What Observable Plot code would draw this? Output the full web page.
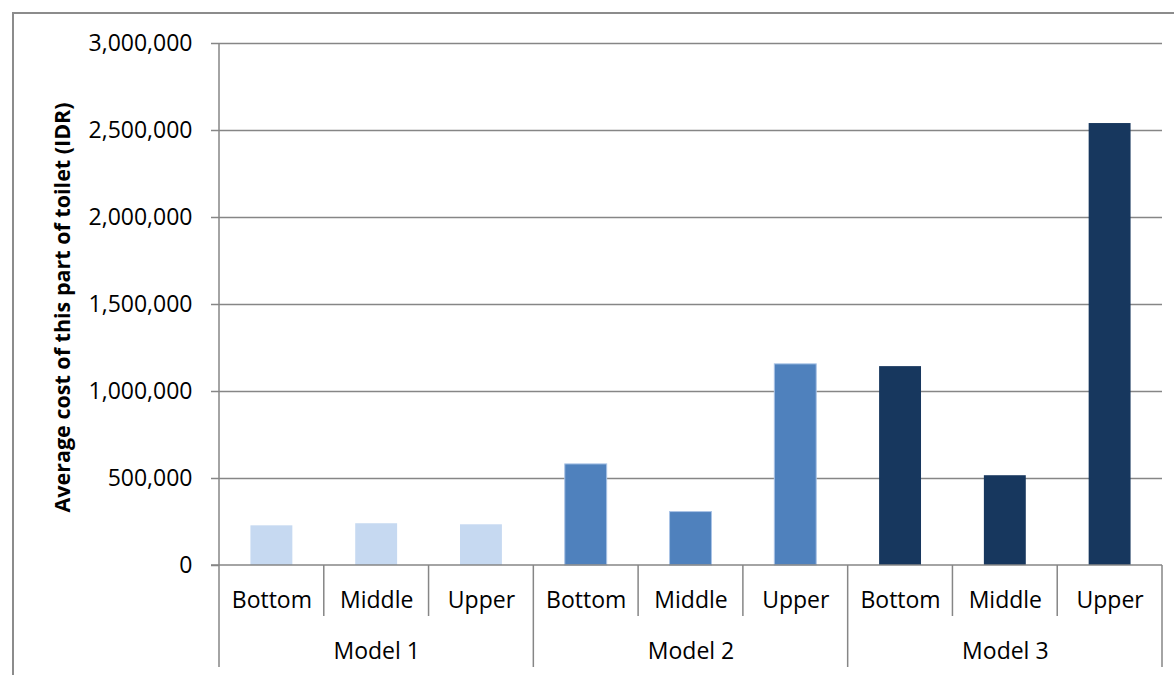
<!DOCTYPE html>
<html>
<head>
<meta charset="utf-8">
<script src="https://cdn.jsdelivr.net/npm/d3@7"></script>
<script src="https://cdn.jsdelivr.net/npm/@observablehq/plot@0.6"></script>
<style>
  html, body { margin: 0; padding: 0; background: #fff; overflow: hidden; }
  #wrap { position: relative; width: 1174px; height: 675px; }
  #border { position: absolute; left: 12px; top: 12px; width: 1200px; height: 700px; border: 2px solid #8c8c8c; pointer-events: none; }
  #chart { position: absolute; left: 0; top: 0; }
</style>
</head>
<body>
<div id="wrap"><div id="chart"></div><div id="border"></div></div>
<script>
const models = ["Model 1", "Model 2", "Model 3"];
const levels = ["Bottom", "Middle", "Upper"];
const model1Values = [228000, 240000, 234000];
const model2Values = [581000, 307000, 1156000];
const model3Values = [1143000, 516000, 2540000];
const yTicks = [0, 500000, 1000000, 1500000, 2000000, 2500000, 3000000];
const yLabel = "Average cost of this part of toilet (IDR)";

const seriesValues = [model1Values, model2Values, model3Values];
const rows = models.flatMap((m, mi) => levels.map((l, li) => ({
  model: m, level: l, idx: mi * levels.length + li, value: seriesValues[mi][li]
})));
const groups = models.map((m, mi) => ({model: m, center: mi * levels.length + levels.length / 2}));
const nCats = models.length * levels.length;
const boundaries = d3.range(0, nCats + 1);

const gridColor = "#868686";
const font = "'Open Sans', sans-serif";

const catLines = (index, scales, values, dimensions) => {
  const g = d3.create("svg:g");
  const y0 = scales.y(0);
  for (const b of boundaries) {
    const x = scales.x(b);
    const major = b % levels.length === 0;
    g.append("line")
      .attr("x1", x).attr("x2", x)
      .attr("y1", b === 0 ? dimensions.marginTop : y0)
      .attr("y2", y0 + (major ? 102 : 51))
      .attr("stroke", gridColor).attr("stroke-width", 1.5);
  }
  g.append("line")
    .attr("x1", scales.x(0) - 8).attr("x2", scales.x(nCats))
    .attr("y1", y0).attr("y2", y0)
    .attr("stroke", gridColor).attr("stroke-width", 1.5);
  return g.node();
};

const chart = Plot.plot({
  width: 1174,
  height: 675,
  marginLeft: 219,
  marginRight: 12,
  marginTop: 43,
  marginBottom: 110,
  style: {fontFamily: font, fontSize: "23px", color: "#000", background: "transparent"},
  x: {type: "linear", domain: [0, nCats], axis: null},
  y: {domain: [0, 3000000], axis: null},
  color: {domain: models, range: ["#c6d9f1", "#4f81bd", "#17375e"]},
  marks: [
    Plot.ruleY(yTicks.filter(d => d > 0), {stroke: gridColor, strokeWidth: 1.5}),
    Plot.axisY({ticks: yTicks, tickFormat: d3.format(","), tickSize: 8, tickPadding: 19,
      stroke: gridColor, strokeWidth: 1.5, fill: "#000", fontSize: 23, label: null}),
    Plot.rectY(rows, {x1: d => d.idx + 0.3, x2: d => d.idx + 0.7, y: "value", fill: "model",
      stroke: d => d.model === models[1] ? "#a9c3e6" : "none", strokeWidth: 1}),
    catLines,
    Plot.text(rows, {x: d => d.idx + 0.5, y: 0, text: "level", dy: 35, fontSize: 23, fill: "#000"}),
    Plot.text(groups, {x: "center", y: 0, text: "model", dy: 86, fontSize: 23, fill: "#000"}),
    Plot.text([yLabel], {frameAnchor: "left", textAnchor: "middle", dx: -156, dy: 3, rotate: -90, text: d => d,
      fontWeight: "bold", fontSize: 21.5, fill: "#000"})
  ]
});
document.getElementById("chart").appendChild(chart);
</script>
</body>
</html>
